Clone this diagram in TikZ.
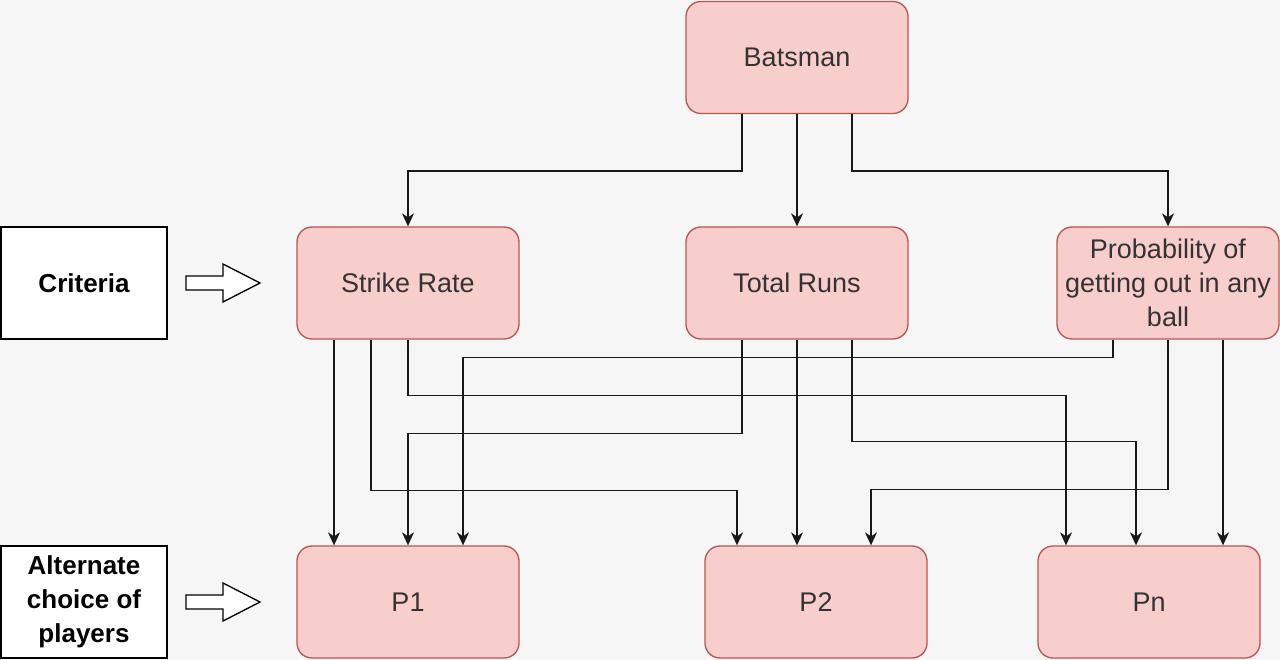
\documentclass[tikz,border=0pt]{standalone}
\usepackage{fontspec}
\setmainfont{Liberation Sans}
\usetikzlibrary{arrows.meta,calc}
\definecolor{bg}{HTML}{F6F6F6}
\definecolor{boxfill}{HTML}{F8CECC}
\definecolor{boxline}{HTML}{B85450}
\definecolor{txt}{HTML}{333333}
\begin{document}
\begin{tikzpicture}[x=1pt,y=-1pt,
  box/.style={draw=boxline, fill=boxfill, line width=1.3pt, rounded corners=15pt,
    minimum width=222pt, minimum height=112pt, text=txt, align=center,
    font=\fontsize{27}{34}\selectfont, inner sep=2pt},
  lbox/.style={draw=black, fill=white, line width=1.3pt,
    minimum width=166pt, minimum height=112pt, align=center,
    font=\fontsize{26}{34}\selectfont\bfseries, inner sep=2pt},
  arr/.style={draw=black!90, line width=1.5pt, -{Stealth[length=13pt,width=12pt,inset=4pt]}},
  blk/.style={draw=black, fill=white, line width=1.3pt, line join=miter}
]
\useasboundingbox[fill=bg] (0,0) rectangle (1280,660);

% nodes
\node[box] (bat) at (797,57.5) {Batsman};
\node[box] (sr) at (408,283) {Strike Rate};
\node[box] (tr) at (797,283) {Total Runs};
\node[box] (pr) at (1168,283) {Probability of\\getting out in any\\ball};
\node[box] (p1) at (408,602) {P1};
\node[box] (p2) at (816,602) {P2};
\node[box] (pn) at (1149,602) {Pn};

\node[lbox] (crit) at (84,283) {Criteria};
\node[lbox] (alt) at (84,602) {Alternate\\choice of\\players};

% block arrows
\draw[blk] (186,276) -- (223,276) -- (223,264) -- (260,283) -- (223,302) -- (223,290) -- (186,290) -- cycle;
\draw[blk] (186,595) -- (223,595) -- (223,583) -- (260,602) -- (223,621) -- (223,609) -- (186,609) -- cycle;

% batsman to criteria
\draw[arr] ([xshift=-55pt]bat.south) -- ++(0,57) -| (sr.north);
\draw[arr] (bat.south) -- (tr.north);
\draw[arr] ([xshift=55pt]bat.south) -- ++(0,57) -| (pr.north);

% strike rate
\draw[arr] ([xshift=-74pt]sr.south) -- ([xshift=-74pt]p1.north);
\draw[arr] ([xshift=-37pt]sr.south) -- ++(0,151) -| ([xshift=-79pt]p2.north);
\draw[arr] (sr.south) -- ++(0,56) -| ([xshift=-83pt]pn.north);

% total runs
\draw[arr] ([xshift=-55pt]tr.south) -- ++(0,94) -| (p1.north);
\draw[arr] (tr.south) -- ([xshift=-19pt]p2.north);
\draw[arr] ([xshift=55pt]tr.south) -- ++(0,102) -| ([xshift=-13pt]pn.north);

% probability
\draw[arr] ([xshift=-55pt]pr.south) -- ++(0,18) -| ([xshift=55pt]p1.north);
\draw[arr] (pr.south) -- ++(0,150) -| ([xshift=55pt]p2.north);
\draw[arr] ([xshift=55pt]pr.south) -- ([xshift=74pt]pn.north);
\end{tikzpicture}
\end{document}
